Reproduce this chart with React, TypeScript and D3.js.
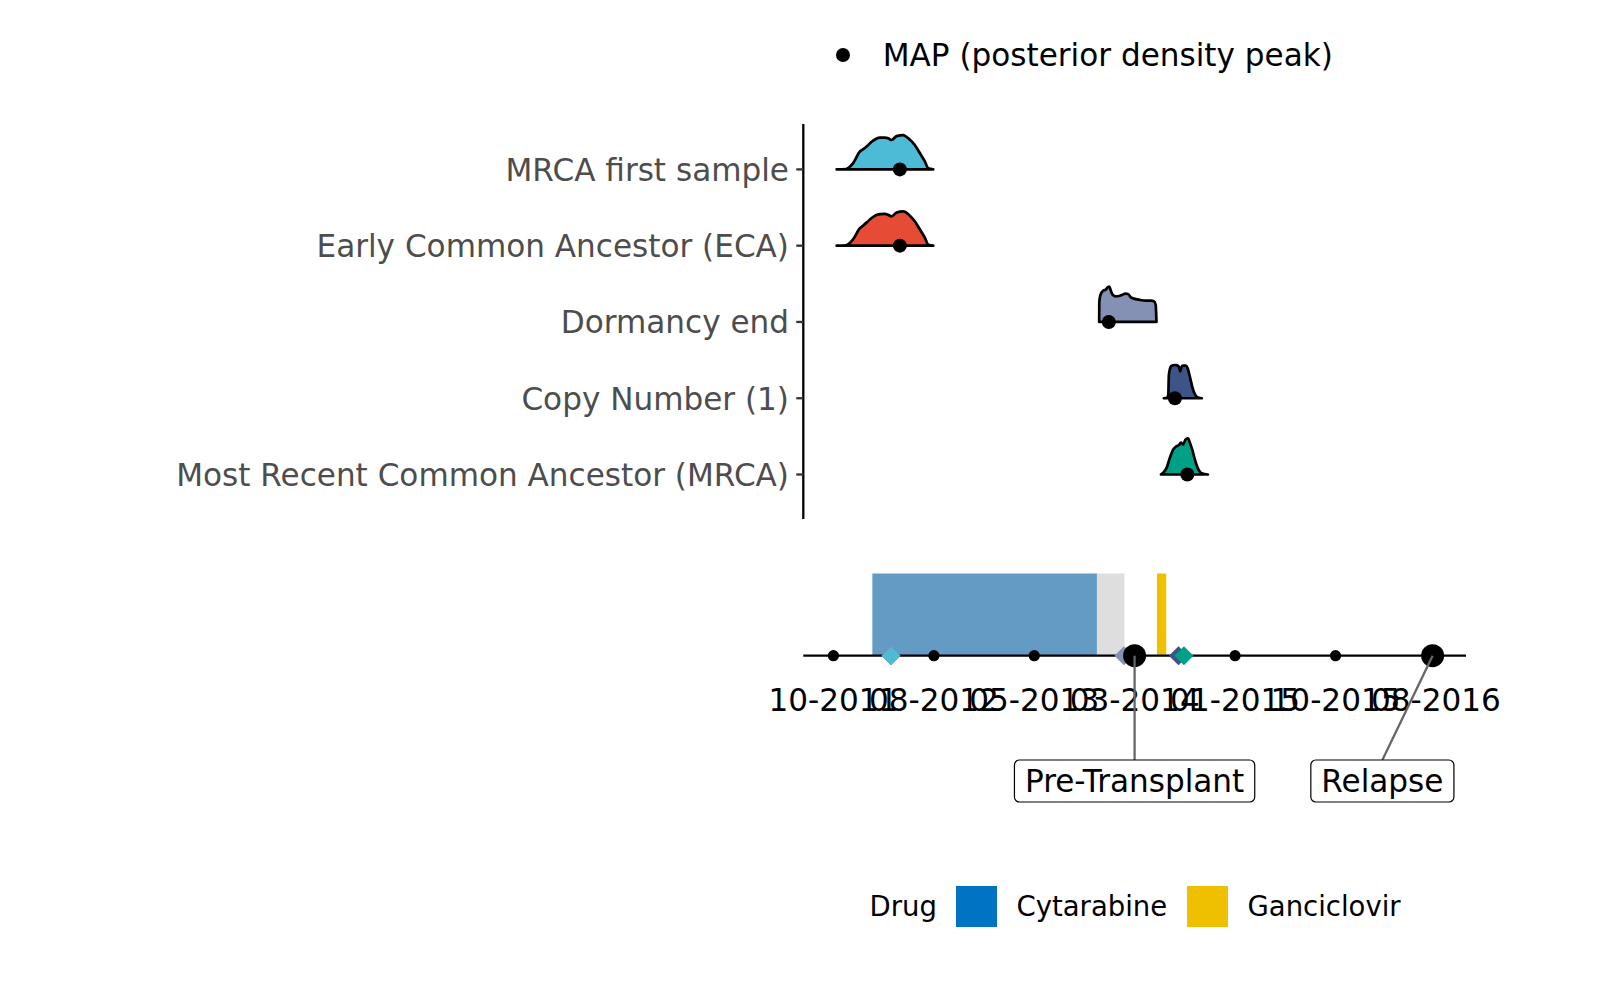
import React from "react";
import * as d3 from "d3";

// categories, top to bottom
const categories = [
  "MRCA first sample",
  "Early Common Ancestor (ECA)",
  "Dormancy end",
  "Copy Number (1)",
  "Most Recent Common Ancestor (MRCA)",
];
const fillColors = ["#4DBBD5", "#E64B35", "#8491B4", "#3C5488", "#00A087"];

// posterior densities: [decimal year, relative density]
const densityMRCAFirst: [number, number][] = [
  [2011.842, 0], [2011.916, 0.01], [2011.971, 0.17], [2012.027, 0.51], [2012.051, 0.57],
  [2012.083, 0.66], [2012.12, 0.79], [2012.154, 0.87], [2012.186, 0.91], [2012.226, 0.91],
  [2012.252, 0.89], [2012.279, 0.84], [2012.319, 0.95], [2012.372, 0.98], [2012.412, 0.89],
  [2012.439, 0.8], [2012.465, 0.69], [2012.505, 0.46], [2012.545, 0.22], [2012.571, 0.03],
  [2012.611, 0],
];
const densityECA: [number, number][] = [
  [2011.842, 0], [2011.916, 0.01], [2011.971, 0.17], [2012.027, 0.5], [2012.051, 0.57],
  [2012.083, 0.67], [2012.12, 0.79], [2012.154, 0.87], [2012.186, 0.9], [2012.226, 0.91],
  [2012.252, 0.88], [2012.279, 0.84], [2012.319, 0.95], [2012.372, 0.98], [2012.412, 0.9],
  [2012.439, 0.8], [2012.465, 0.69], [2012.505, 0.46], [2012.545, 0.22], [2012.571, 0.03],
  [2012.611, 0],
];
const densityDormancy: [number, number][] = [
  [2013.932, 0], [2013.933, 0.57], [2013.942, 0.77], [2013.962, 0.89], [2013.986, 0.93],
  [2014.001, 0.99], [2014.012, 1.01], [2014.025, 0.89], [2014.041, 0.77], [2014.065, 0.73],
  [2014.089, 0.74], [2014.113, 0.77], [2014.141, 0.81], [2014.161, 0.8], [2014.185, 0.7],
  [2014.216, 0.66], [2014.256, 0.63], [2014.304, 0.61], [2014.344, 0.61], [2014.368, 0.59],
  [2014.382, 0.49], [2014.388, 0],
];
const densityCN: [number, number][] = [
  [2014.447, 0], [2014.471, 0.01], [2014.482, 0.09], [2014.487, 0.66], [2014.495, 0.83],
  [2014.503, 0.91], [2014.519, 0.94], [2014.535, 0.95], [2014.551, 0.94], [2014.567, 0.9],
  [2014.577, 0.77], [2014.587, 0.89], [2014.599, 0.93], [2014.62, 0.93], [2014.636, 0.86],
  [2014.654, 0.62], [2014.676, 0.29], [2014.7, 0.08], [2014.726, 0.01], [2014.75, 0],
];
const densityMRCA: [number, number][] = [
  [2014.424, 0], [2014.442, 0.05], [2014.469, 0.19], [2014.495, 0.48], [2014.521, 0.71],
  [2014.549, 0.81], [2014.567, 0.84], [2014.583, 0.91], [2014.601, 0.86], [2014.62, 1.0],
  [2014.641, 1.03], [2014.654, 0.91], [2014.673, 0.71], [2014.694, 0.43], [2014.716, 0.19],
  [2014.742, 0.05], [2014.774, 0.01], [2014.798, 0],
];
const densities = [densityMRCAFirst, densityECA, densityDormancy, densityCN, densityMRCA];

// MAP (density peak) and timeline diamond per category
const mapYears = [2012.345, 2012.345, 2014.009, 2014.535, 2014.634];
const diamondYears = [2012.274, 2012.274, 2014.129, 2014.563, 2014.607];
const diamondOrder = [1, 0, 2, 3, 4];

// timeline ticks
const tickYears = [2011.816, 2012.616, 2013.415, 2014.215, 2015.014, 2015.814, 2016.613];
const tickLabels = ["10-2011", "08-2012", "05-2013", "03-2014", "01-2015", "10-2015", "08-2016"];

// samples
const sampleNames = ["Pre-Transplant", "Relapse"];
const sampleYears = [2014.214, 2016.587];
const sampleLabelYears = [2014.214, 2016.187];

// treatment spans
const drugNames = ["Cytarabine", "Ganciclovir"];
const drugColors = ["#0073C2", "#EFC000"];
const drugSpans = [
  { drug: "Cytarabine", start: 2012.126, end: 2013.914 },
  { drug: "Ganciclovir", start: 2014.392, end: 2014.466 },
];
const greySpans = [{ start: 2013.914, end: 2014.133 }];

const FONT = "DejaVu Sans";

const measure = (() => {
  const c = typeof document !== "undefined" ? document.createElement("canvas") : null;
  const ctx = c ? c.getContext("2d") : null;
  return (t: string, size: number) => {
    if (!ctx) return t.length * size * 0.6;
    ctx.font = `${size}px "${FONT}"`;
    return ctx.measureText(t).width;
  };
})();

export default function App() {
  const left = 803.3;
  const right = 1466;
  const pad = (tickYears[tickYears.length - 1] - tickYears[0]) * 0.05;
  const x = d3
    .scaleLinear()
    .domain([tickYears[0] - pad, tickYears[tickYears.length - 1] + pad])
    .range([left, right]);

  const y = d3.scalePoint<string>().domain(categories).range([169.4, 474.5]);
  const h = d3.scaleLinear().domain([0, 1]).range([0, 35]);

  const tlY = 655.7;
  const spanTop = 573.5;
  const boxTop = 760;
  const boxH = 42;

  const fontMain = 31.1;
  const fontLegend = 27.5;
  const capMid = fontMain * 0.3645;

  return (
    <svg
      width={1600}
      height={1000}
      style={{ position: "absolute", left: 0, top: 0 }}
      fontFamily={FONT}
    >
      <rect width={1600} height={1000} fill="#fff" />

      {/* MAP legend */}
      <circle cx={843} cy={55} r={7} fill="#000" />
      <text x={882.7} y={55 + capMid} fontSize={fontMain} fill="#000">
        MAP (posterior density peak)
      </text>

      {/* ridges */}
      {categories.map((c, i) => {
        const base = y(c)!;
        const area = d3
          .area<[number, number]>()
          .x((d) => x(d[0]))
          .y0(base)
          .y1((d) => base - h(d[1]))
          .curve(d3.curveMonotoneX);
        return (
          <path
            key={c}
            d={area(densities[i])!}
            fill={fillColors[i]}
            stroke="#000"
            strokeWidth={2.7}
            strokeLinejoin="round"
          />
        );
      })}
      {categories.map((c, i) => (
        <circle key={c} cx={x(mapYears[i])} cy={y(c)!} r={7} fill="#000" />
      ))}

      {/* y axis */}
      <line x1={left} x2={left} y1={124} y2={519} stroke="#000" strokeWidth={2.3} />
      {categories.map((c) => (
        <g key={c}>
          <line x1={left - 7} x2={left} y1={y(c)} y2={y(c)} stroke="#333" strokeWidth={2.3} />
          <text
            x={789}
            y={y(c)! + capMid}
            textAnchor="end"
            fontSize={fontMain}
            fill="#4d4d4d"
          >
            {c}
          </text>
        </g>
      ))}

      {/* timeline spans */}
      {greySpans.map((s, i) => (
        <rect
          key={"g" + i}
          x={x(s.start)}
          y={spanTop}
          width={x(s.end) - x(s.start)}
          height={tlY - spanTop}
          fill="#dedede"
        />
      ))}
      {drugSpans.map((s, i) => (
        <rect
          key={"d" + i}
          x={x(s.start)}
          y={spanTop}
          width={x(s.end) - x(s.start)}
          height={tlY - spanTop}
          fill={s.drug === "Cytarabine" ? "#639bc4" : drugColors[1]}
        />
      ))}

      {/* timeline axis */}
      <line x1={left} x2={right} y1={tlY} y2={tlY} stroke="#000" strokeWidth={2.3} />
      {tickYears.map((t, i) => (
        <g key={t}>
          <circle cx={x(t)} cy={tlY} r={5.6} fill="#000" />
          <text x={x(t)} y={711} textAnchor="middle" fontSize={fontMain} fill="#000">
            {tickLabels[i]}
          </text>
        </g>
      ))}
      {diamondOrder.map((i) => {
        const cx = x(diamondYears[i]);
        const r = 9.5;
        return (
          <path
            key={"dm" + i}
            d={`M${cx},${tlY - r}L${cx + r},${tlY}L${cx},${tlY + r}L${cx - r},${tlY}Z`}
            fill={fillColors[i]}
          />
        );
      })}
      {sampleYears.map((s, i) => (
        <circle key={"s" + i} cx={x(s)} cy={tlY} r={11.5} fill="#000" />
      ))}

      {/* sample labels */}
      {sampleNames.map((n, i) => {
        const lx = x(sampleLabelYears[i]);
        const w = measure(n, fontMain) + 21;
        return (
          <g key={n}>
            <line
              x1={x(sampleYears[i])}
              y1={tlY}
              x2={lx}
              y2={boxTop}
              stroke="#666"
              strokeWidth={2.3}
            />
            <rect
              x={lx - w / 2}
              y={boxTop}
              width={w}
              height={boxH}
              rx={5}
              fill="#fff"
              stroke="#000"
              strokeWidth={1.2}
            />
            <text
              x={lx}
              y={boxTop + boxH / 2 + capMid}
              textAnchor="middle"
              fontSize={fontMain}
              fill="#000"
            >
              {n}
            </text>
          </g>
        );
      })}

      {/* drug legend */}
      <text x={869.5} y={916} fontSize={fontLegend} fill="#000">
        Drug
      </text>
      {drugNames.map((d, i) => {
        const kx = i === 0 ? 956 : 1187;
        return (
          <g key={d}>
            <rect x={kx} y={886} width={41} height={41} fill={drugColors[i]} />
            <text x={kx + 60.5} y={916} fontSize={fontLegend} fill="#000">
              {d}
            </text>
          </g>
        );
      })}
    </svg>
  );
}
